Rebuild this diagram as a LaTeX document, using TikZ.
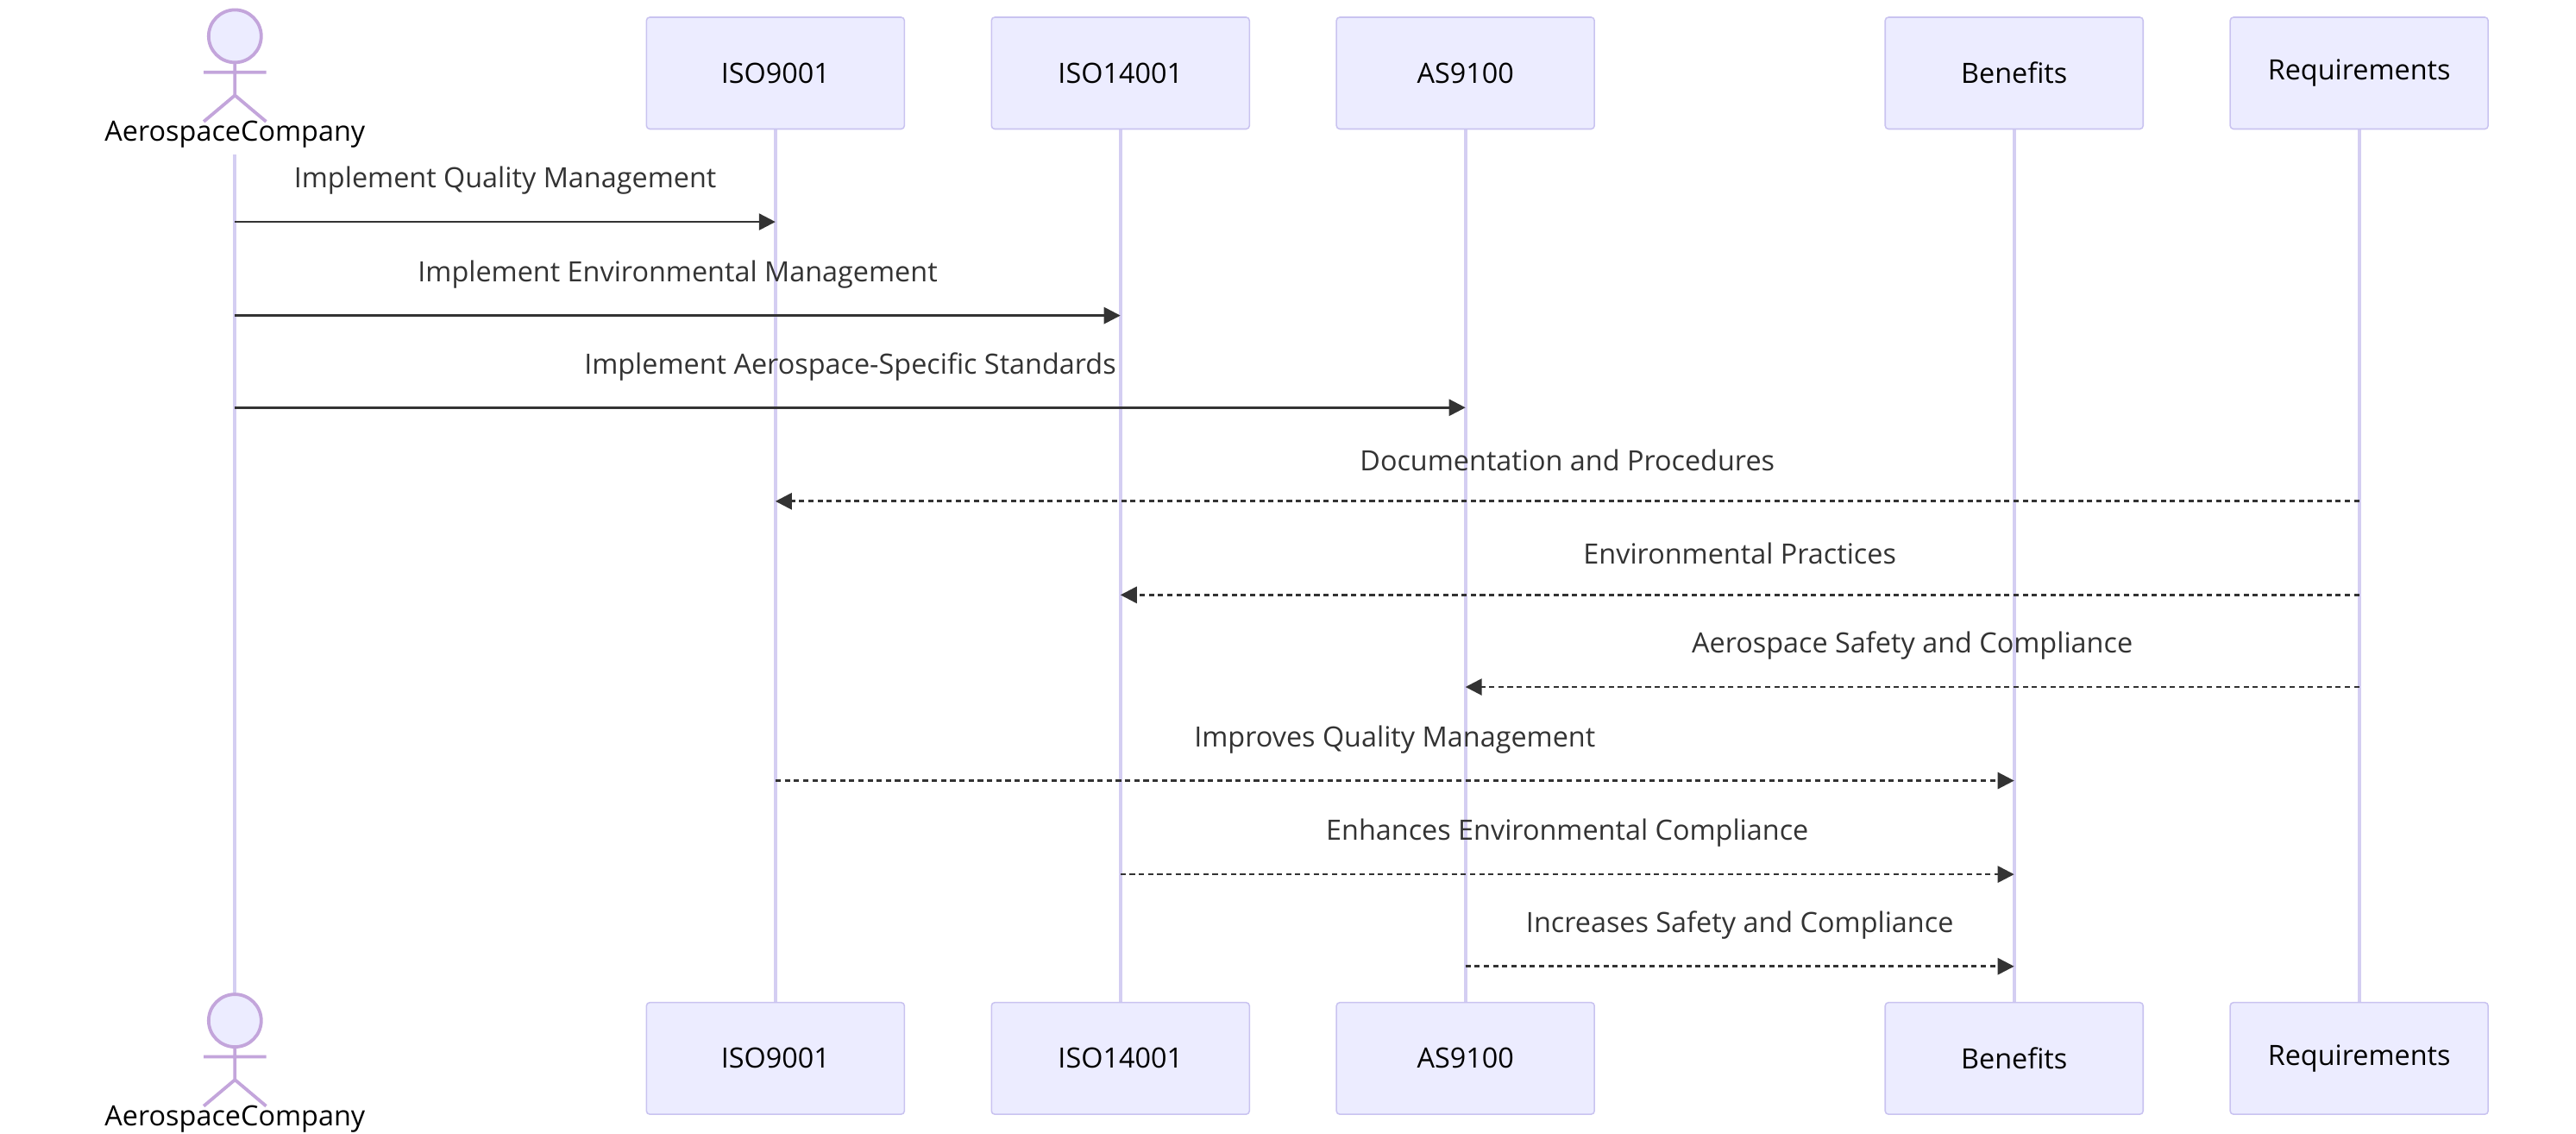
\documentclass[tikz,border=0pt]{standalone}
\usepackage{fontspec}
\setmainfont{Open Sans}
\usetikzlibrary{arrows.meta}
\definecolor{boxfill}{HTML}{ECECFF}
\definecolor{boxline}{HTML}{C9C3F0}
\definecolor{life}{HTML}{D4CEF2}
\definecolor{msg}{HTML}{333333}
\begin{document}
\begin{tikzpicture}[x=0.5pt,y=-0.5pt,
  part/.style={draw=boxline,fill=boxfill,minimum width=78.5pt,minimum height=34pt,inner sep=0pt,font=\fontsize{8.5}{10}\selectfont,rounded corners=1pt},
  lifeline/.style={draw=life,line width=1pt},
  sync/.style={draw=msg,line width=0.7pt,-{Triangle[length=5pt,width=5pt]}},
  reply/.style={sync,dash pattern=on 1.6pt off 1.2pt},
  lbl/.style={font=\fontsize{8.5}{10}\selectfont,text=msg,inner sep=0pt},
  actor/.style={draw=life!80!violet,fill=boxfill,line width=1pt}]
\useasboundingbox (0,0) rectangle (1568,690);
% lifelines
\foreach \x in {472,682,892,1226,1436} \draw[lifeline] (\x,78) -- (\x,610);
\draw[lifeline] (143,94) -- (143,606);
% participants
\foreach \n/\x/\t in {a/472/ISO9001,b/682/ISO14001,c/892/AS9100,d/1226/Benefits,e/1436/Requirements}{
  \node[part] (\n top) at (\x,44.5) {\t};
  \node[part] (\n bot) at (\x,644) {\t};
}
% actors
\foreach \y/\s in {0/top,599/bot}{
  \draw[actor] (143,22+\y) circle (8pt);
  \draw[actor] (143,38+\y) -- (143,58+\y) (124,44+\y) -- (162,44+\y) (143,58+\y) -- (124,74+\y) (143,58+\y) -- (162,74+\y);
  \node[lbl,font=\fontsize{8.5}{10}\selectfont,text=black] (act\s) at (143,82+\y) {AerospaceCompany};
}
\coordinate (A) at (143,0); \coordinate (I1) at (472,0); \coordinate (I2) at (682,0);
\coordinate (AS) at (892,0); \coordinate (B) at (1226,0); \coordinate (R) at (1436,0);
\newcommand\msgline[5]{%
  \draw[#1] ([yshift=-#4*0.5pt]#2) -- ([yshift=-#4*0.5pt]#3);
  \path ([yshift=-#4*0.5pt]#2) -- ([yshift=-#4*0.5pt]#3) node[lbl,midway,yshift=12.5pt] {#5};}
\msgline{sync}{A}{I1}{135}{Implement Quality Management}
\msgline{sync}{A}{I2}{192}{Implement Environmental Management}
\msgline{sync}{A}{AS}{248}{Implement Aerospace-Specific Standards}
\msgline{reply}{R}{I1}{305}{Documentation and Procedures}
\msgline{reply}{R}{I2}{362}{Environmental Practices}
\msgline{reply}{R}{AS}{418}{Aerospace Safety and Compliance}
\msgline{reply}{I1}{B}{475}{Improves Quality Management}
\msgline{reply}{I2}{B}{532}{Enhances Environmental Compliance}
\msgline{reply}{AS}{B}{588}{Increases Safety and Compliance}
\end{tikzpicture}
\end{document}
